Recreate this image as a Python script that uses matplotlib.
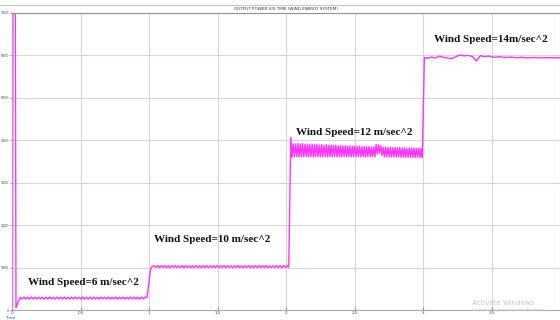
import matplotlib
matplotlib.use("Agg")
import matplotlib.pyplot as plt
from matplotlib.lines import Line2D
import numpy as np

# ---------------- data ----------------
title = "OUTPUT POWER V/S TIME (WIND ENERGY SYSTEM)"
x_ticks = [0, 0.5, 1, 1.5, 2, 2.5, 3, 3.5]
x_tick_labels = ["0", "0.5", "1", "1.5", "2", "2.5", "3", "3.5"]
y_ticks = [0, 1000, 2000, 3000, 4000, 5000, 6000, 7000]
y_tick_labels = ["0", "1000", "2000", "3000", "4000", "5000", "6000", "7000"]

# start-up transient
start_t = [0.0, 0.004, 0.007, 0.012, 0.018, 0.024, 0.029, 0.034, 0.045, 0.06]
start_p = [0, 0, 7600, 7600, 7600, 7600, 60, 90, 200, 280]

# 6 m/s segment ripple (alternating peak / trough), t 0.06 .. 0.985
seg6_span = [0.06, 0.985]
seg6 = [300, 258, 305, 262, 302, 255, 306, 260, 303, 257, 305, 261, 301, 256,
        304, 259, 306, 262, 302, 255, 305, 260, 303, 258, 306, 261, 301, 256,
        304, 259, 305, 262, 302, 257, 306, 260, 303, 255, 304, 261, 305, 258,
        301, 256, 306, 262, 303, 259, 304, 257, 302, 260, 306, 255, 303, 261,
        305, 258, 301, 256, 304, 262, 306, 259, 302, 257, 305, 260, 303, 290]

# 10 m/s segment, t 1.012 .. 2.02
seg10_span = [1.012, 2.02]
seg10 = [980, 1030, 1045, 1002, 1048, 998, 1044, 1003, 1047, 1000, 1043, 997,
         1046, 1002, 1048, 999, 1044, 1001, 1047, 998, 1045, 1003, 1043, 1000,
         1046, 997, 1048, 1002, 1044, 999, 1047, 1001, 1045, 998, 1043, 1003,
         1046, 1000, 1048, 997, 1044, 1002, 1047, 999, 1045, 1001, 1043, 998,
         1046, 1003, 1048, 1000, 1044, 997, 1047, 1002, 1045, 999, 1043, 1001,
         1046, 998, 1048, 1003, 1044, 1000, 1047, 997, 1045, 1002, 1043, 999,
         1046, 1001, 1048, 998, 1044, 1003, 1047, 1010]

# 12 m/s segment, t 2.035 .. 2.995
seg12_span = [2.035, 2.995]
seg12 = [4070, 3600,
         3920, 3610, 3910, 3620, 3925, 3605, 3915, 3615, 3920, 3610, 3905, 3620,
         3915, 3608, 3900, 3615, 3910, 3610,
         3895, 3618, 3905, 3610, 3890, 3615, 3900, 3608, 3885, 3620, 3895, 3612,
         3880, 3615, 3890, 3610, 3875, 3618, 3885, 3612,
         3870, 3615, 3880, 3610, 3865, 3618, 3875, 3612, 3860, 3615, 3870, 3610,
         3855, 3618, 3865, 3612, 3850, 3615, 3860, 3610,
         3848, 3615, 3855, 3610, 3845, 3618, 3852, 3612, 3840, 3615, 3850, 3610,
         3905, 3680, 3890, 3700, 3870, 3640,
         3835, 3612, 3842, 3605, 3830, 3610, 3838, 3603, 3825, 3608, 3832, 3600,
         3822, 3606, 3828, 3600, 3820, 3604,
         3825, 3598, 3815, 3602, 3822, 3596, 3812, 3600, 3818, 3595, 3810, 3598,
         3815, 3594, 3808, 3596]

# 14 m/s segment (irregular wobble)
seg14_t = [3.01, 3.03, 3.06, 3.09, 3.12, 3.15, 3.18, 3.21, 3.24, 3.27, 3.30,
           3.33, 3.36, 3.39, 3.42, 3.45, 3.48, 3.52, 3.56, 3.60, 3.64, 3.68,
           3.72, 3.76, 3.80, 3.85, 3.90, 3.95, 4.0]
seg14 = [5950, 5930, 5960, 5940, 5985, 5955, 5940, 5925, 5970, 6010, 5990,
         6000, 5975, 5870, 5995, 5970, 5985, 5955, 5970, 5950, 5962, 5945,
         5955, 5942, 5950, 5945, 5948, 5944, 5946]

labels = ["Wind Speed=6 m/sec^2", "Wind Speed=10 m/sec^2",
          "Wind Speed=12 m/sec^2", "Wind Speed=14m/sec^2"]
label_t = [0.117, 1.04, 2.07, 3.08]
label_p = [650, 1650, 4190, 6370]

# ---------------- build the signal ----------------
t = np.concatenate([
    start_t,
    np.linspace(seg6_span[0], seg6_span[1], len(seg6)),
    np.linspace(seg10_span[0], seg10_span[1], len(seg10)),
    np.linspace(seg12_span[0], seg12_span[1], len(seg12)),
    seg14_t,
])
p = np.concatenate([start_p, seg6, seg10, seg12, seg14])

# ---------------- draw ----------------
fig = plt.figure(figsize=(5.6, 3.2), dpi=100)
ax = fig.add_axes([12 / 560, 10 / 320, 548 / 560, 297 / 320])
ax.set_xlim(0, 4)
ax.set_ylim(0, 7000)

ax.grid(True, color="#d6d6d6", lw=0.8)
ax.set_axisbelow(True)
ax.plot(t, p, color="#ff33ff", lw=1.0)

ax.set_xticks(x_ticks)
ax.set_xticklabels(x_tick_labels)
ax.set_yticks(y_ticks)
ax.set_yticklabels(y_tick_labels)
ax.tick_params(labelsize=3, length=2, width=0.6, color="#808080",
               labelcolor="#404040", pad=1)
ax.tick_params(axis="y", labelsize=2.3, pad=0.5, length=1.5)
ax.tick_params(axis="x", direction="in")
for s in ax.spines.values():
    s.set_color("#a8a8a8")
    s.set_linewidth(0.8)
ax.spines["top"].set_color("#909090")

ax.set_title(title, fontsize=3, pad=2, color="#303030")

for txt, x, y in zip(labels, label_t, label_p):
    ax.text(x, y, txt, family="Liberation Serif", fontweight="bold",
            fontsize=8, ha="left", va="center", color="#111111")

fig.add_artist(Line2D([0, 1], [1 - 5 / 320] * 2, color="#c8c8c8", lw=0.8))
fig.text(5 / 560, 1 - 318 / 320, "Time", fontsize=3, color="#404040",
         va="center")
fig.text(472 / 560, 1 - 303 / 320, "Activate Windows", fontsize=5,
         color="#c4c4c4", va="center")
fig.text(472 / 560, 1 - 310 / 320, "Go to Settings to activate Windows.",
         fontsize=3, color="#cccccc", va="center")

fig.savefig("out.png", dpi=100)
